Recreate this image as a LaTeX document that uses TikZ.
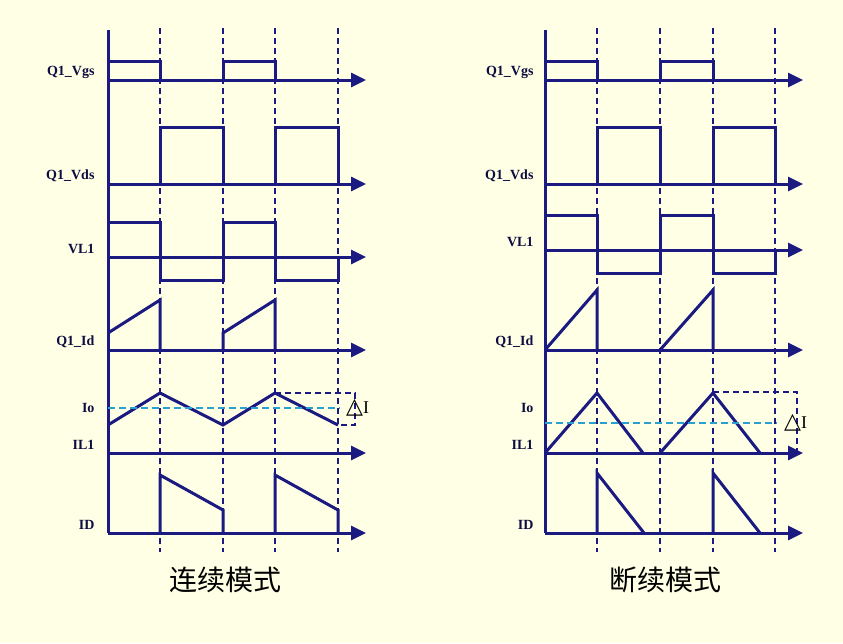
\documentclass[tikz,border=0pt]{standalone}
\usepackage{fontspec}
\setmainfont{Liberation Serif}
\newfontfamily\cjk{Noto Sans CJK SC}
\newfontfamily\dv{DejaVu Sans}
\usetikzlibrary{arrows.meta}
\definecolor{nv}{HTML}{1A1A80}
\definecolor{bg}{HTML}{FFFFE6}
\definecolor{cy}{HTML}{2AA0D0}
\begin{document}
\begin{tikzpicture}[x=1pt,y=-1pt,
  w/.style={draw=nv,line width=3pt,line join=miter},
  ax/.style={w,-{Triangle[length=15pt,width=14pt]}},
  dl/.style={draw=nv,line width=2.4pt,dash pattern=on 6pt off 4pt},
  avg/.style={draw=cy,line width=2.4pt,dash pattern=on 7pt off 4pt},
  lab/.style={anchor=east,font=\fontsize{14}{16}\selectfont\bfseries,text=nv!50!black},
  dI/.style={anchor=west,inner sep=0pt,font=\fontsize{18}{20}\selectfont},
  ttl/.style={font=\cjk\fontsize{28}{32}\selectfont}]
\fill[bg] (0,0) rectangle (843,643);
\useasboundingbox (0,0) rectangle (843,643);
% ---------- left panel ----------
\foreach \x in {160,223,275,338} \draw[dl] (\x,28) -- (\x,552);
\draw[w] (108,30) -- (108,533);
\foreach \y/\t in {80/Q1\_Vgs,184/Q1\_Vds,257/VL1,350/Q1\_Id,453/IL1,533/ID}{
  \draw[ax] (108,\y) -- (366,\y);
  \node[lab] at (98,\y-8) {\t};}
\node[lab] at (98,408) {Io};
\draw[w] (108,61) -- (160,61) -- (160,80);
\draw[w] (223,80) -- (223,61) -- (275,61) -- (275,80);
\draw[w] (160,184) -- (160,127) -- (223,127) -- (223,184);
\draw[w] (275,184) -- (275,127) -- (338,127) -- (338,184);
\draw[w] (108,222) -- (160,222) -- (160,280) -- (223,280) -- (223,222) -- (275,222) -- (275,280) -- (338,280) -- (338,257);
\draw[w] (108,333) -- (160,300) -- (160,350);
\draw[w] (223,350) -- (223,333) -- (275,300) -- (275,350);
\draw[w] (108,425) -- (160,393) -- (223,425) -- (275,393) -- (338,425);
\draw[avg] (108,408) -- (340,408);
\draw[dl] (275,393) -- (355,393) -- (355,425) -- (338,425);
\node[dI] at (346,408) {{\dv\fontsize{22}{24}\selectfont △}I};
\draw[w] (160,533) -- (160,475) -- (223,510) -- (223,533);
\draw[w] (275,533) -- (275,475) -- (338,510) -- (338,533);
\node[ttl] (t1) at (225,580) {连续模式};
% ---------- right panel ----------
\foreach \x in {597,660,713,775} \draw[dl] (\x,28) -- (\x,552);
\draw[w] (545,30) -- (545,533);
\foreach \y/\t in {80/Q1\_Vgs,184/Q1\_Vds,250/VL1,350/Q1\_Id,453/IL1,533/ID}{
  \draw[ax] (545,\y) -- (803,\y);
  \node[lab] at (537,\y-8) {\t};}
\node[lab] at (537,408) {Io};
\draw[w] (545,61) -- (597,61) -- (597,80);
\draw[w] (660,80) -- (660,61) -- (713,61) -- (713,80);
\draw[w] (597,184) -- (597,127) -- (660,127) -- (660,184);
\draw[w] (713,184) -- (713,127) -- (775,127) -- (775,184);
\draw[w] (545,215) -- (597,215) -- (597,273) -- (660,273) -- (660,215) -- (713,215) -- (713,273) -- (775,273) -- (775,250);
\draw[w] (545,350) -- (597,290) -- (597,350);
\draw[w] (660,350) -- (713,290) -- (713,350);
\draw[w] (545,453) -- (597,393) -- (643,453);
\draw[w] (660,453) -- (713,393) -- (760,453);
\draw[avg] (545,423) -- (777,423);
\draw[dl] (713,392) -- (797,392) -- (797,453);
\node[dI] at (784,423) {{\dv\fontsize{22}{24}\selectfont △}I};
\draw[w] (597,533) -- (597,473) -- (644,533);
\draw[w] (713,533) -- (713,473) -- (760,533);
\node[ttl] (t2) at (665,580) {断续模式};
\end{tikzpicture}
\end{document}
